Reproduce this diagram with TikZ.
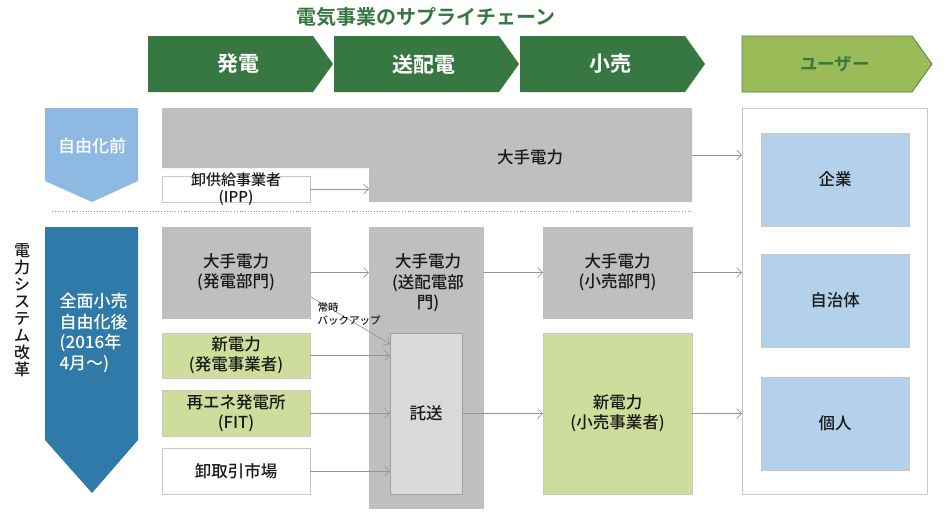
\documentclass[tikz,border=0pt]{standalone}
\usepackage{fontspec}
\setmainfont{Noto Sans CJK JP}[UprightFont=* Medium, BoldFont=* Bold]
\usetikzlibrary{positioning, calc, arrows.meta}

\definecolor{hdrgreen}{RGB}{55,119,66}
\definecolor{userfill}{RGB}{155,187,89}
\definecolor{userline}{RGB}{70,130,60}
\definecolor{lightblue}{RGB}{141,185,226}
\definecolor{deepblue}{RGB}{47,122,168}
\definecolor{greyfill}{RGB}{191,191,191}
\definecolor{wheelfill}{RGB}{217,217,217}
\definecolor{newfill}{RGB}{206,221,155}
\definecolor{userblue}{RGB}{180,209,236}
\definecolor{boxline}{RGB}{200,200,200}
\definecolor{linegrey}{RGB}{150,150,150}
\definecolor{txt}{RGB}{25,25,25}

\tikzset{
  box/.style={draw=boxline, line width=0.9pt, inner sep=0pt, outer sep=0pt, text=txt, align=center,
    font=\fontsize{16.5}{20}\selectfont},
  gbox/.style={box, fill=greyfill, draw=greyfill},
  nbox/.style={box, fill=newfill},
  wbox/.style={box, fill=white},
  ubox/.style={box, fill=userblue},
  conn/.style={draw=linegrey, line width=0.7pt, -{Straight Barb[length=5pt,width=10pt]}},
  lbl/.style={text=txt, align=center, font=\fontsize{16.5}{20.5}\selectfont},
  hdr/.style={text=white, font=\bfseries\fontsize{21}{24}\selectfont},
}

\begin{document}
\begin{tikzpicture}[x=1pt, y=-1pt]
  \useasboundingbox (0,0) rectangle (950,517);

  % supply chain header
  \node[text=hdrgreen, font=\bfseries\fontsize{20}{22}\selectfont] (title) at (426,17) {電気事業のサプライチェーン};
  \foreach \x/\name/\txt in {148/gen/発電, 334/trans/送配電, 520/retail/小売} {
    \fill[hdrgreen] (\x,36) -- ++(165,0) -- ++(20,28) -- ++(-20,28) -- ++(-165,0) -- cycle;
    \node[hdr] (\name) at (\x+90,64) {\txt};
  }
  \draw[userline, fill=userfill, line width=0.8pt] (742,36) -- (912,36) -- (932,64) -- (912,92) -- (742,92) -- cycle;
  \node[hdr, text=hdrgreen, font=\bfseries\fontsize{17.5}{20}\selectfont] (user) at (835,64) {ユーザー};

  % before liberalisation
  \fill[lightblue] (45,108) -- (138,108) -- (138,181) -- (92,202) -- (45,181) -- cycle;
  \node[text=white, font=\fontsize{17}{20}\selectfont] (before) at (92,146) {自由化前};
  \fill[greyfill] (162,108) -- (692,108) -- (692,202) -- (369,202) -- (369,168) -- (162,168) -- cycle;
  \node[minimum width=530pt, minimum height=94pt, inner sep=0pt] (bigco) at (427,155) {};
  \node[lbl] (bigtxt) at (530,157) {大手電力};
  \node[wbox, minimum width=148pt, minimum height=26pt] (ipp) at (236,189) {};
  \node[lbl, font=\fontsize{15}{17}\selectfont] (ipptxt) at (ipp) {卸供給事業者\\(IPP)};
  \coordinate (bigin) at (369,189);
  \draw[conn] (ipp.east) -- (bigin);

  \draw[linegrey, dotted, line width=0.8pt] (52,211) -- (692,211);

  % users
  \node[wbox, minimum width=185pt, minimum height=386pt] (users) at (834.5,301) {};
  \node[ubox, minimum width=148pt, minimum height=93pt] (corp) at (835,179.5) {企業};
  \node[ubox, minimum width=148pt, minimum height=93pt] (local) at (835,300.5) {自治体};
  \node[ubox, minimum width=148pt, minimum height=93pt] (indiv) at (835,423.5) {個人};
  \draw[conn] (bigco.east) -- (bigco.east -| users.west);

  % after liberalisation
  \node[text=txt, align=center, font=\fontsize{16}{17}\selectfont] (reform) at (22,310)
    {電\\力\\シ\\ス\\テ\\ム\\改\\革};
  \fill[deepblue] (45,227) -- (138,227) -- (138,440) -- (92,493) -- (45,440) -- cycle;
  \node[text=white, align=left, anchor=west, font=\fontsize{17}{20.5}\selectfont] (after) at (56,333)
    {全面小売\\自由化後\\(2016年\\4月～)};

  \node[gbox, minimum width=148pt, minimum height=91pt] (gendept) at (236,272.5) {大手電力\\(発電部門)};
  \node[nbox, minimum width=148pt, minimum height=45pt] (newgen) at (236,355.5) {新電力\\(発電事業者)};
  \node[nbox, minimum width=148pt, minimum height=46pt] (fit) at (236,413) {再エネ発電所\\(FIT)};
  \node[wbox, minimum width=148pt, minimum height=46pt] (market) at (236,471) {卸取引市場};

  \node[gbox, minimum width=114pt, minimum height=281pt] (tdcol) at (426,367.5) {};
  \node[lbl] (tdtxt) at (428,283) {大手電力\\(送配電部\\門)};
  \node[box, fill=wheelfill, draw=boxline!80!black, minimum width=72pt, minimum height=161pt] (wheel) at (426,413.5) {託送};

  \node[gbox, minimum width=149pt, minimum height=91pt] (retaildept) at (617.5,272.5) {大手電力\\(小売部門)};
  \node[nbox, minimum width=149pt, minimum height=161pt] (newretail) at (617.5,413.5) {新電力\\(小売事業者)};

  \coordinate (bk) at (311,297);
  \draw[conn] (bk) -- ($(wheel.north west)+(0,11)$);
  \node[text=txt, align=left, anchor=west, font=\fontsize{10.5}{13}\selectfont] (bktxt) at (314,314) {常時\\バックアップ};

  \draw[conn] (gendept.east) -- (gendept.east -| tdcol.west);
  \draw[conn] (newgen.east) -- (newgen.east -| wheel.west);
  \draw[conn] (fit.east) -- (fit.east -| wheel.west);
  \draw[conn] (market.east) -- (market.east -| wheel.west);
  \draw[conn] (retaildept.west -| tdcol.east) -- (retaildept.west);
  \draw[conn] (wheel.east) -- (wheel.east -| newretail.west);
  \draw[conn] (retaildept.east) -- (retaildept.east -| users.west);
  \draw[conn] (newretail.east) -- (newretail.east -| users.west);
\end{tikzpicture}
\end{document}
